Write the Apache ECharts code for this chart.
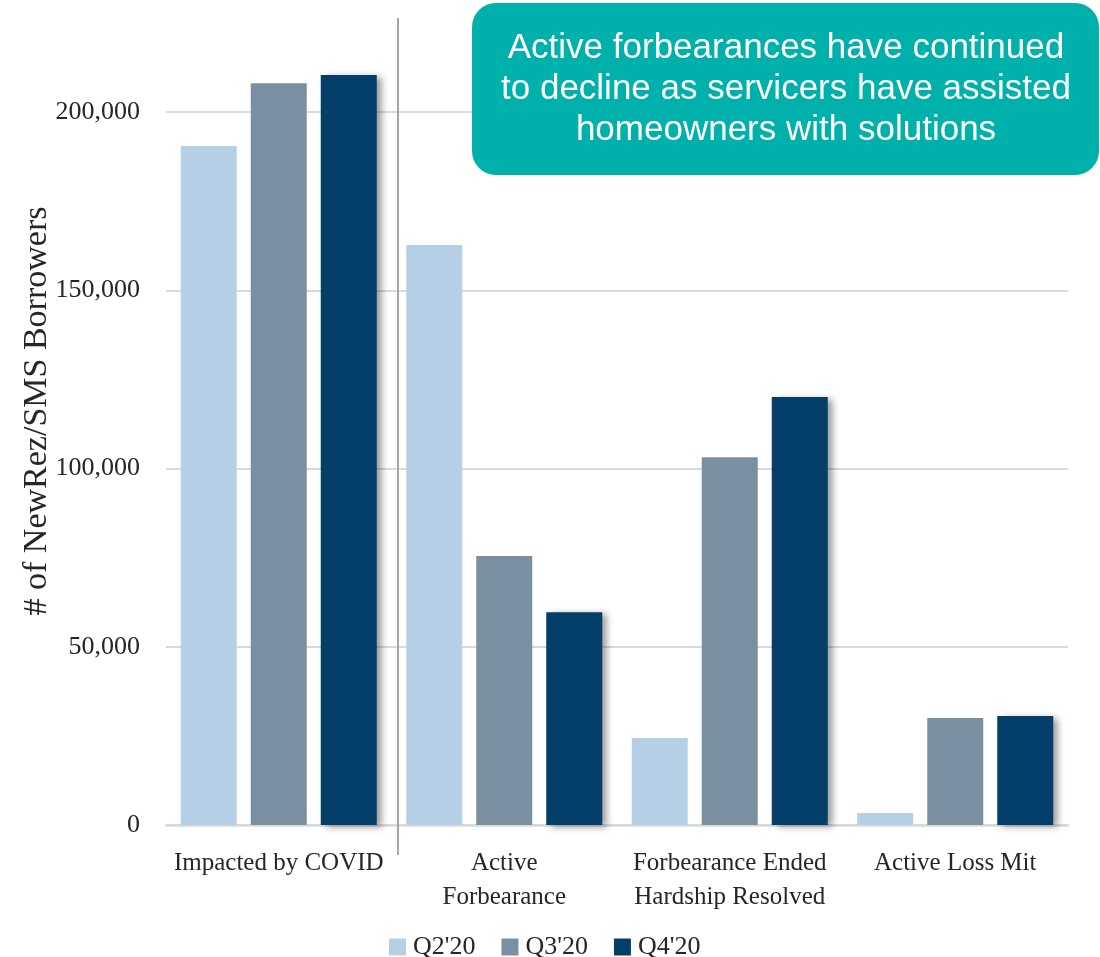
<!DOCTYPE html>
<html>
<head>
<meta charset="utf-8">
<script src="https://cdn.jsdelivr.net/npm/echarts@6/dist/echarts.min.js"></script>
<style>
html,body{margin:0;padding:0;background:#fff;}
#chart{width:1100px;height:957px;}
</style>
</head>
<body>
<div id="chart"></div>
<script>
const categories = ['Impacted by COVID', 'Active\nForbearance', 'Forbearance Ended\nHardship Resolved', 'Active Loss Mit'];
const seriesNames = ["Q2'20", "Q3'20", "Q4'20"];
const q2Values = [190500, 162700, 24400, 3400];
const q3Values = [208100, 75500, 103200, 30000];
const q4Values = [210400, 59700, 120100, 30600];
const yTicks = [0, 50000, 100000, 150000, 200000];
const yAxisTitle = '# of NewRez/SMS Borrowers';
const calloutLines = ['Active forbearances have continued', 'to decline as servicers have assisted', 'homeowners with solutions'];

const colors = ['#B5CFE7', '#7A8FA0', '#043F6A'];
const serif = 'Liberation Serif, Times New Roman, serif';

const chart = echarts.init(document.getElementById('chart'), null, {renderer: 'canvas'});

const values = [q2Values, q3Values, q4Values];
const series = seriesNames.map((name, i) => ({
  name: name,
  type: 'bar',
  data: values[i],
  barWidth: 56,
  barGap: '25%',
  itemStyle: Object.assign({color: colors[i]}, i === 2 ? {
    shadowColor: 'rgba(0,0,0,0.4)', shadowBlur: 7, shadowOffsetX: 5, shadowOffsetY: 2
  } : {})
}));

const topTick = yTicks[yTicks.length - 1];

chart.setOption({
  animation: false,
  grid: {left: 166, right: 32, top: 23, bottom: 132},
  legend: {
    data: seriesNames,
    left: 384,
    top: 929,
    itemWidth: 17,
    itemHeight: 17,
    itemGap: 26,
    icon: 'rect',
    textStyle: {fontFamily: serif, fontSize: 26, color: '#262626', padding: [0, 0, 0, 2]}
  },
  xAxis: {
    type: 'category',
    data: categories,
    axisLine: {lineStyle: {color: '#D9D9D9', width: 2.5}},
    axisTick: {show: false},
    axisLabel: {
      interval: 0,
      margin: 21,
      fontFamily: serif,
      fontSize: 25,
      lineHeight: 34,
      color: '#262626'
    }
  },
  yAxis: {
    type: 'value',
    min: 0,
    max: 225000,
    interval: 50000,
    name: yAxisTitle,
    nameLocation: 'middle',
    nameGap: 112,
    nameMoveOverlap: false,
    nameTextStyle: {fontFamily: serif, fontSize: 34, color: '#262626', padding: [0, 0, 0, 26]},
    axisLine: {show: false},
    axisTick: {show: false},
    axisLabel: {
      margin: 26,
      fontFamily: serif,
      fontSize: 26,
      color: '#262626',
      formatter: v => v > topTick ? '' : v.toLocaleString('en-US')
    },
    splitLine: {lineStyle: {color: ['#D9D9D9', '#D9D9D9', '#D9D9D9', '#D9D9D9', '#D9D9D9', 'rgba(0,0,0,0)'], width: 2}}
  },
  series: series,
  graphic: [
    {
      type: 'line',
      shape: {x1: 398, y1: 18, x2: 398, y2: 855},
      style: {stroke: '#A6A6A6', lineWidth: 2},
      z: 10
    },
    {
      type: 'rect',
      shape: {x: 472, y: 3, width: 627, height: 172, r: 24},
      style: {fill: '#00B0AA'},
      z: 20
    },
    {
      type: 'text',
      x: 786,
      y: 28,
      z: 21,
      style: {
        text: calloutLines.join('\n'),
        fill: '#ffffff',
        fontFamily: 'Liberation Sans, Arial, sans-serif',
        fontSize: 35,
        lineHeight: 41,
        align: 'center',
        verticalAlign: 'top'
      }
    }
  ]
});
</script>
</body>
</html>
